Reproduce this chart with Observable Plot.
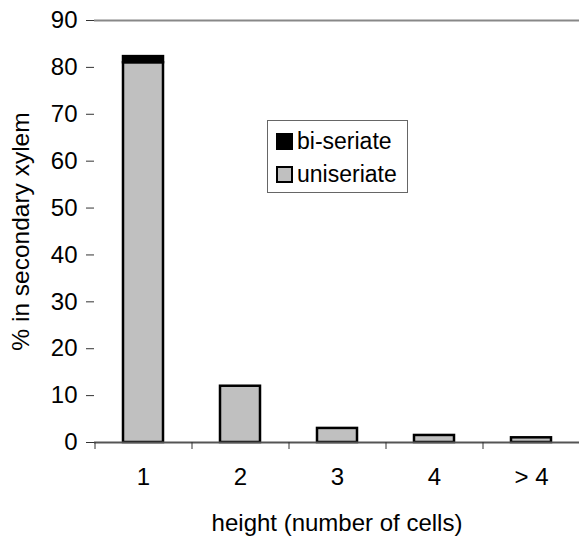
<!DOCTYPE html>
<html><head><meta charset="utf-8">
<script src="https://cdn.jsdelivr.net/npm/d3@7"></script>
<script src="https://cdn.jsdelivr.net/npm/@observablehq/plot@0.6"></script>
<style>
body{margin:0;background:#fff;font-family:"Liberation Sans",Arial,sans-serif}
#wrap{position:relative;width:579px;height:536px}
#legend{position:absolute;left:267px;top:120px;width:141px;height:73px;box-sizing:border-box;border:1.5px solid #666;background:#fff}
.item{position:absolute;left:8px;height:24px;display:flex;align-items:center;font-size:23px;color:#000}
.sw{width:13px;height:13px;border:2px solid #000;margin-right:4px;box-sizing:content-box}
</style>
</head><body><div id="wrap"></div>
<script>
const categories = ["1", "2", "3", "4", "> 4"];
const uniseriate = [81, 12, 3, 1.5, 1];
const biseriate = [1.3, 0, 0, 0, 0];
const seriesNames = ["bi-seriate", "uniseriate"];
const seriesColors = ["#000000", "#c0c0c0"];
const yTicks = [0, 10, 20, 30, 40, 50, 60, 70, 80, 90];

const rows = [];
categories.forEach((c, i) => {
  rows.push({cat: c, series: "uniseriate", value: uniseriate[i]});
  if (biseriate[i] > 0) rows.push({cat: c, series: "bi-seriate", value: biseriate[i]});
});

const W = 579, H = 536, ML = 94, MR = 0, MT = 20, MB = 94;
const step = (W - ML - MR) / categories.length;

const chart = Plot.plot({
  width: W, height: H,
  marginLeft: ML, marginRight: MR, marginTop: MT, marginBottom: MB,
  style: {fontSize: "24px", fontFamily: "'Liberation Sans', Arial, sans-serif", color: "#000", background: "#fff"},
  x: {domain: categories, paddingInner: 0.59, paddingOuter: 0.295},
  y: {domain: [0, 90]},
  color: {domain: seriesNames, range: seriesColors},
  marks: [
    Plot.ruleY([90], {stroke: "#888", strokeWidth: 2}),
    Plot.barY(rows, {x: "cat", y: "value", fill: "series", stroke: "#000", strokeWidth: 2.5,
      order: ["uniseriate", "bi-seriate"]}),
    Plot.ruleY([0], {stroke: "#555", strokeWidth: 2}),
    Plot.axisY({ticks: yTicks, tickSize: 8, tickPadding: 9, stroke: "#333", line: true,
      fontSize: 24, label: null}),
    Plot.axisY({ticks: [], tickSize: 0, fontSize: 24.5,
      label: "% in secondary xylem", labelAnchor: "center", labelArrow: "none", labelOffset: 83}),
    Plot.axisX({text: null, tickSize: 7, dx: -step / 2, stroke: "#333", label: null}),
    Plot.axisX({tickSize: 0, tickPadding: 25, fontSize: 24, label: null}),
    Plot.axisX({ticks: [], tickSize: 0, fontSize: 24,
      label: "height (number of cells)", labelAnchor: "center", labelArrow: "none", labelOffset: 88})
  ]
});
const wrap = document.getElementById("wrap");
wrap.appendChild(chart);

const legend = document.createElement("div");
legend.id = "legend";
seriesNames.forEach((name, i) => {
  const item = document.createElement("div");
  item.className = "item";
  item.style.top = (8 + i * 33) + "px";
  const sw = document.createElement("span");
  sw.className = "sw";
  sw.style.background = seriesColors[i];
  const t = document.createElement("span");
  t.textContent = name;
  item.appendChild(sw); item.appendChild(t);
  legend.appendChild(item);
});
wrap.appendChild(legend);
</script>
</body></html>
